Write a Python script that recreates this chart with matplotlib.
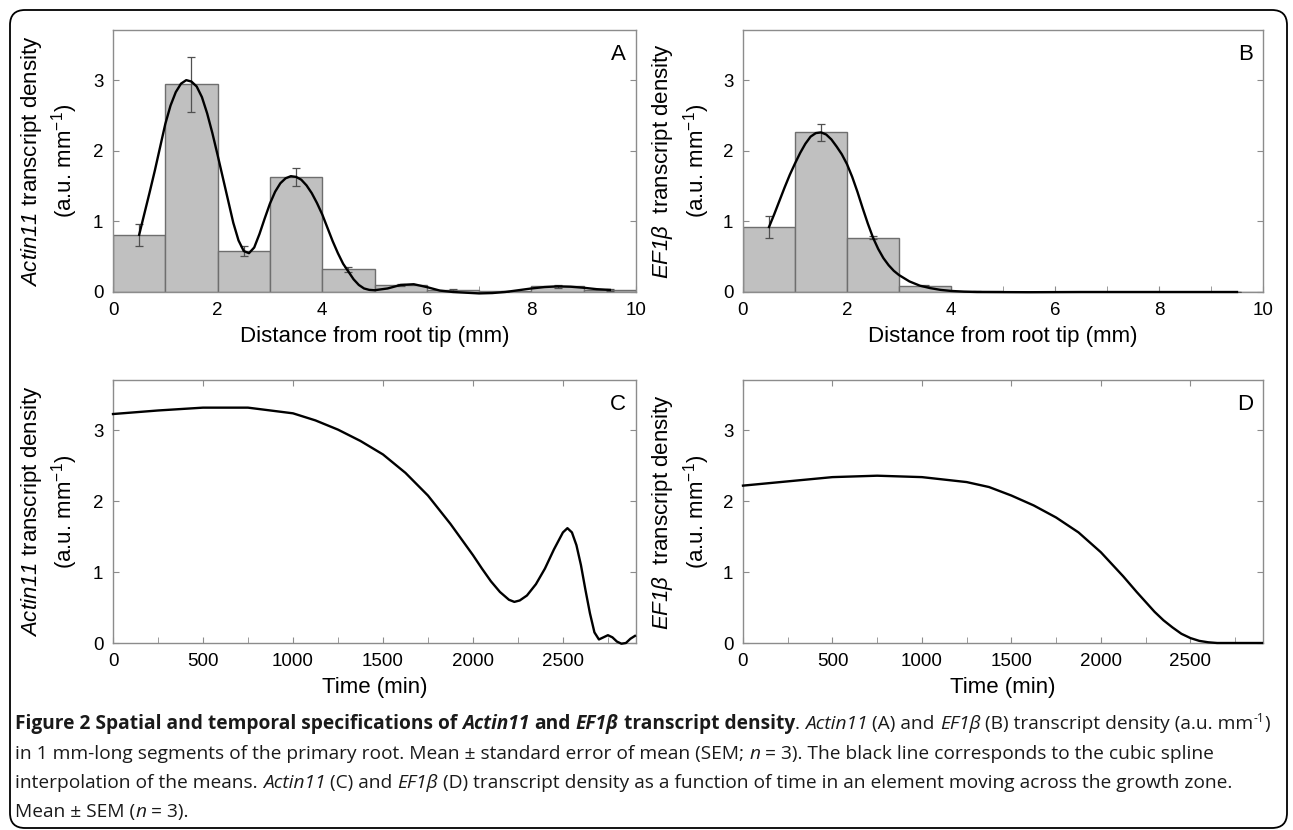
import numpy as np
import matplotlib
matplotlib.use("Agg")
from matplotlib import pyplot as plt
from matplotlib.patches import FancyBboxPatch
from matplotlib.ticker import MultipleLocator

plt.rcParams['font.family'] = ['Liberation Sans', 'DejaVu Sans']
plt.rcParams['mathtext.fontset'] = 'custom'
plt.rcParams['mathtext.rm'] = 'Liberation Sans'
plt.rcParams['mathtext.it'] = 'Liberation Sans:italic'
plt.rcParams['mathtext.bf'] = 'Liberation Sans:bold'
# sf slot used for fully italic gene names (digits included)
plt.rcParams['mathtext.sf'] = 'Liberation Sans:italic'

# --- data ---
seg_mid = [0.5, 1.5, 2.5, 3.5, 4.5, 5.5, 6.5, 7.5, 8.5, 9.5]

actin_mean = [0.81, 2.94, 0.58, 1.63, 0.32, 0.10, 0.03, 0.01, 0.08, 0.03]
actin_sem = [0.155, 0.39, 0.075, 0.125, 0.04, 0.01, 0.01, 0.01, 0.02, 0.01]
ef1b_mean = [0.92, 2.26, 0.77, 0.09, 0.01, 0.005, 0.005, 0.005, 0.005, 0.005]
ef1b_sem = [0.16, 0.12, 0.02, 0.01, 0.005, 0.0, 0.0, 0.0, 0.0, 0.0]

actin_sx = [0.5, 0.6, 0.7, 0.8, 0.9, 1.0, 1.1, 1.2, 1.3, 1.4, 1.5, 1.6, 1.7, 1.8,
            1.9, 2.0, 2.1, 2.2, 2.3, 2.4, 2.5, 2.6, 2.7, 2.8, 2.9, 3.0, 3.1, 3.2,
            3.3, 3.4, 3.5, 3.6, 3.7, 3.8, 3.9, 4.0, 4.1, 4.2, 4.3, 4.4, 4.5, 4.6,
            4.7, 4.8, 4.9, 5.0, 5.25, 5.5, 5.75, 6.0, 6.25, 6.5, 6.75, 7.0, 7.25,
            7.5, 7.75, 8.0, 8.25, 8.5, 8.75, 9.0, 9.25, 9.5]
actin_sy = [0.81, 1.11, 1.41, 1.72, 2.05, 2.38, 2.64, 2.83, 2.95, 3.0, 2.98, 2.91,
            2.76, 2.53, 2.25, 1.94, 1.62, 1.30, 0.98, 0.73, 0.58, 0.55, 0.63, 0.82,
            1.04, 1.25, 1.42, 1.54, 1.61, 1.64, 1.63, 1.59, 1.51, 1.40, 1.26, 1.10,
            0.91, 0.72, 0.55, 0.40, 0.29, 0.18, 0.10, 0.05, 0.03, 0.025, 0.05,
            0.10, 0.11, 0.07, 0.02, 0.0, -0.01, -0.02, -0.015, 0.0, 0.025, 0.05,
            0.07, 0.08, 0.075, 0.06, 0.04, 0.03]
ef1b_sx = [0.5, 0.6, 0.7, 0.8, 0.9, 1.0, 1.1, 1.2, 1.3, 1.4, 1.5, 1.6, 1.7, 1.8,
           1.9, 2.0, 2.1, 2.2, 2.3, 2.4, 2.5, 2.6, 2.7, 2.8, 2.9, 3.0, 3.2, 3.4,
           3.6, 3.8, 4.0, 4.25, 4.5, 5.5, 6.5, 7.5, 8.5, 9.5]
ef1b_sy = [0.92, 1.10, 1.29, 1.48, 1.66, 1.82, 1.97, 2.10, 2.20, 2.25, 2.26, 2.23,
           2.16, 2.06, 1.95, 1.81, 1.63, 1.42, 1.19, 0.97, 0.77, 0.61, 0.48, 0.38,
           0.30, 0.24, 0.15, 0.09, 0.055, 0.03, 0.015, 0.005, 0.0, -0.003, 0.0,
           0.0, 0.0, 0.0]

actin_t = [0, 250, 500, 750, 1000, 1125, 1250, 1375, 1500, 1625, 1750, 1875,
           2000, 2050, 2100, 2150, 2200, 2230, 2260, 2300, 2350, 2400, 2450,
           2500, 2525, 2550, 2575, 2600, 2625, 2650, 2675, 2700, 2725, 2750,
           2775, 2800, 2825, 2850, 2875, 2900]
actin_c = [3.23, 3.28, 3.32, 3.32, 3.24, 3.14, 3.01, 2.85, 2.66, 2.40, 2.08, 1.68,
           1.24, 1.05, 0.87, 0.72, 0.61, 0.58, 0.60, 0.67, 0.83, 1.05, 1.32,
           1.56, 1.62, 1.56, 1.38, 1.10, 0.75, 0.42, 0.15, 0.05, 0.08, 0.11,
           0.08, 0.02, -0.01, 0.0, 0.06, 0.10]
ef1b_t = [0, 250, 500, 750, 1000, 1250, 1375, 1500, 1625, 1750, 1875, 2000,
          2125, 2200, 2250, 2300, 2350, 2400, 2450, 2500, 2550, 2600, 2650, 2900]
ef1b_c = [2.22, 2.28, 2.34, 2.36, 2.34, 2.27, 2.20, 2.08, 1.94, 1.77, 1.56, 1.28,
          0.94, 0.72, 0.58, 0.44, 0.32, 0.22, 0.13, 0.07, 0.03, 0.01, 0.0, 0.0]

W, H = 1293, 830
fig = plt.figure(figsize=(W / 100, H / 100), dpi=100)

# outer rounded frame
frame = FancyBboxPatch((0.10, 0.02), 12.77, 8.18, boxstyle="round,pad=0,rounding_size=0.15",
                       transform=fig.dpi_scale_trans, fill=False, ec='black', lw=1.3)
fig.patches.append(frame)


def make_ax(left, top, right, bottom):
    return fig.add_axes([left / W, 1 - bottom / H, (right - left) / W, (bottom - top) / H])


axA = make_ax(113, 30, 636, 292)
axB = make_ax(743, 30, 1263, 292)
axC = make_ax(113, 380, 636, 643)
axD = make_ax(743, 380, 1263, 643)

spine_col = '#8c8c8c'
ylab_a = r'$\mathsf{Actin11}$ transcript density' + '\n' + r'(a.u. mm$^{-1}$)'
ylab_e = r'$\mathsf{EF1β}$  transcript density' + '\n' + r'(a.u. mm$^{-1}$)'


def style(ax, letter, ylab, top_ticks):
    ax.set_ylim(0, 3.71)
    ax.set_yticks([0, 1, 2, 3])
    for s in ax.spines.values():
        s.set_color(spine_col)
        s.set_linewidth(1.0)
    ax.tick_params(which='both', direction='in', color=spine_col, right=True,
                   top=top_ticks, labelsize=13.5, pad=7)
    ax.tick_params(which='major', length=4)
    ax.tick_params(which='minor', length=4, top=False)
    ax.text(0.966, 0.905, letter, transform=ax.transAxes, ha='center', va='center',
            fontsize=16)
    ax.set_ylabel(ylab, fontsize=16, linespacing=1.25)


# A and B: segment means
for ax, m, e, sx, sy in [(axA, actin_mean, actin_sem, actin_sx, actin_sy),
                         (axB, ef1b_mean, ef1b_sem, ef1b_sx, ef1b_sy)]:
    ax.bar(seg_mid, m, width=1.0, color='#c0c0c0', edgecolor='#6e6e6e', lw=1.0, zorder=2)
    ax.errorbar(seg_mid, m, yerr=e, fmt='none', ecolor='#505050', elinewidth=0.9,
                capsize=3, capthick=0.9, zorder=3)
    ax.plot(sx, sy, color='black', lw=1.7, zorder=4, clip_on=False,
            solid_joinstyle='round')
    ax.set_xlim(0, 10)
    ax.set_xticks([0, 2, 4, 6, 8, 10])
    ax.xaxis.set_minor_locator(MultipleLocator(1))
    ax.set_xlabel('Distance from root tip (mm)', fontsize=16, labelpad=5)

# C and D: time courses
for ax, t, c in [(axC, actin_t, actin_c), (axD, ef1b_t, ef1b_c)]:
    ax.plot(t, c, color='black', lw=1.7, zorder=4, clip_on=False,
            solid_joinstyle='round')
    ax.set_xlim(0, 2906)
    ax.set_xticks([0, 500, 1000, 1500, 2000, 2500])
    ax.xaxis.set_minor_locator(MultipleLocator(250))
    ax.set_xlabel('Time (min)', fontsize=16, labelpad=5)

style(axA, 'A', ylab_a, False)
style(axB, 'B', ylab_e, False)
style(axC, 'C', ylab_a, True)
style(axD, 'D', ylab_e, True)
for ax in (axA, axC):
    ax.yaxis.set_label_coords(-0.063, 0.5)
for ax in (axB, axD):
    ax.yaxis.set_label_coords(-0.060, 0.5)

# caption with mixed styles, laid out piece by piece
cap_font = ['Open Sans', 'DejaVu Sans']
r = fig.canvas.get_renderer()

line1 = [
    ('Figure 2 Spatial and temporal specifications of ', 'bold', 'normal'),
    ('Actin11', 'bold', 'italic'),
    (' and ', 'bold', 'normal'),
    ('EF1β', 'bold', 'italic'),
    (' transcript density', 'bold', 'normal'),
    ('. ', 'normal', 'normal'),
    ('Actin11', 'normal', 'italic'),
    (' (A) and ', 'normal', 'normal'),
    ('EF1β', 'normal', 'italic'),
    (' (B) transcript density (a.u. mm', 'normal', 'normal'),
    ('-1', 'normal', 'sup'),
    (')', 'normal', 'normal'),
]
line2 = [
    ('in 1 mm-long segments of the primary root. Mean ± standard error of mean (SEM; ',
     'normal', 'normal'),
    ('n', 'normal', 'italic'),
    (' = 3). The black line corresponds to the cubic spline', 'normal', 'normal'),
]
line3 = [
    ('interpolation of the means. ', 'normal', 'normal'),
    ('Actin11', 'normal', 'italic'),
    (' (C) and ', 'normal', 'normal'),
    ('EF1β', 'normal', 'italic'),
    (' (D) transcript density as a function of time in an element moving across the growth zone.',
     'normal', 'normal'),
]
line4 = [
    ('Mean ± SEM (', 'normal', 'normal'),
    ('n', 'normal', 'italic'),
    (' = 3).', 'normal', 'normal'),
]


def advance(s, **kw):
    a = fig.text(0, 0, '|' + s + '|', **kw)
    b = fig.text(0, 0, '||', **kw)
    w = a.get_window_extent(r).width - b.get_window_extent(r).width
    a.remove()
    b.remove()
    return w


def piece_kw(wt, st, size):
    kw = dict(family=cap_font, fontsize=size, fontweight=wt, fontstyle=st)
    if st == 'sup':
        kw.update(fontsize=size * 0.62, fontstyle='normal')
    return kw


def put_line(y, pieces, size, x0=15, draw=True):
    x = x0
    for s, wt, st in pieces:
        kw = piece_kw(wt, st, size)
        dy = 7 if st == 'sup' else 0
        if draw:
            lead = s[:len(s) - len(s.lstrip(' '))]
            xs = x + (advance(lead, **kw) if lead else 0)
            fig.text(xs / W, 1 - (y - dy) / H, s.strip(), ha='left', va='baseline',
                     color='#1a1a1a', **kw)
        x += advance(s, **kw)
    return x - x0


# fit the first caption line to the width it spans in the figure
cap_size = 13.0
cap_size *= 1247 / put_line(0, line1, cap_size, draw=False)

put_line(729, line1, cap_size)
put_line(759, line2, cap_size)
put_line(788, line3, cap_size)
put_line(817, line4, cap_size)

fig.savefig('out.png', dpi=100)
